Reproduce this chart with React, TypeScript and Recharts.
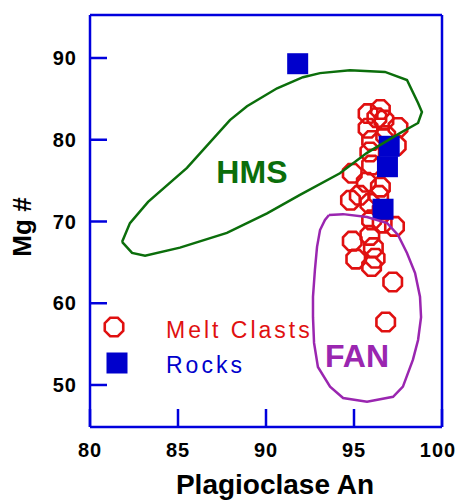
import { ScatterChart, Scatter, XAxis, YAxis, ReferenceDot, Legend, Label } from 'recharts';

const FONT = '"Liberation Sans", Arial, Helvetica, sans-serif';
const BLUE_AXIS = '#0000dd';
const RED = '#e01010';
const BLUE = '#0000cc';
const GREEN = '#0b6e0b';
const PURPLE = '#9a26b0';

// Plagioclase An (x) vs Mg # (y)
const meltClasts = [
  { an: 96.5, mg: 83.7 }, { an: 95.8, mg: 83.2 }, { an: 96.7, mg: 82.4 }, { an: 96.3, mg: 82.7 },
  { an: 97.5, mg: 81.5 }, { an: 95.8, mg: 81.4 }, { an: 96.8, mg: 80.5 }, { an: 96.0, mg: 79.9 },
  { an: 97.4, mg: 79.3 }, { an: 95.9, mg: 78.5 }, { an: 96.0, mg: 76.9 }, { an: 94.9, mg: 75.9 },
  { an: 95.7, mg: 74.8 }, { an: 96.5, mg: 74.2 }, { an: 95.3, mg: 73.2 }, { an: 96.4, mg: 73.2 },
  { an: 94.8, mg: 72.6 }, { an: 95.9, mg: 72.2 }, { an: 96.6, mg: 71.4 }, { an: 96.0, mg: 70.2 },
  { an: 96.6, mg: 69.8 }, { an: 97.3, mg: 69.4 }, { an: 95.9, mg: 68.3 }, { an: 94.9, mg: 67.6 },
  { an: 96.1, mg: 66.8 }, { an: 95.1, mg: 65.4 }, { an: 96.2, mg: 65.5 }, { an: 96.0, mg: 64.5 },
  { an: 97.2, mg: 62.6 }, { an: 96.8, mg: 57.7 },
];

const rocks = [
  { an: 91.8, mg: 89.3 },
  { an: 97.0, mg: 79.2 },
  { an: 96.9, mg: 76.7 },
  { an: 96.65, mg: 71.5 },
];

const hmsOutline = [
  { an: 81.82, mg: 67.5 }, { an: 82.27, mg: 69.8 }, { an: 83.3, mg: 72.4 }, { an: 85.51, mg: 76.55 },
  { an: 87.95, mg: 82.4 }, { an: 88.92, mg: 84.1 }, { an: 90.63, mg: 86.3 }, { an: 92.1, mg: 87.65 },
  { an: 93.07, mg: 88.15 }, { an: 94.77, mg: 88.5 }, { an: 96.76, mg: 88.3 }, { an: 98.01, mg: 87.3 },
  { an: 98.64, mg: 84.5 }, { an: 98.86, mg: 83.4 }, { an: 98.64, mg: 82.05 }, { an: 97.61, mg: 80.8 },
  { an: 95.74, mg: 78.4 }, { an: 94.2, mg: 75.9 }, { an: 91.93, mg: 73.25 }, { an: 90.06, mg: 71.0 },
  { an: 87.78, mg: 68.6 }, { an: 85.11, mg: 66.8 }, { an: 83.13, mg: 65.8 }, { an: 82.39, mg: 66.15 },
  { an: 81.82, mg: 67.5 },
];

const fanOutline = [
  { an: 93.58, mg: 70.8 }, { an: 94.38, mg: 70.9 }, { an: 95.74, mg: 70.55 }, { an: 96.88, mg: 69.8 },
  { an: 97.5, mg: 68.35 }, { an: 98.01, mg: 66.15 }, { an: 98.47, mg: 63.7 }, { an: 98.75, mg: 60.8 },
  { an: 98.81, mg: 58.3 }, { an: 98.64, mg: 55.5 }, { an: 98.35, mg: 53.1 }, { an: 97.78, mg: 49.8 },
  { an: 97.22, mg: 48.55 }, { an: 95.74, mg: 47.95 }, { an: 94.38, mg: 48.4 }, { an: 93.64, mg: 49.8 },
  { an: 92.95, mg: 52.2 }, { an: 92.73, mg: 55.15 }, { an: 92.67, mg: 58.3 }, { an: 92.67, mg: 60.8 },
  { an: 92.78, mg: 64.1 }, { an: 92.9, mg: 66.9 }, { an: 93.07, mg: 68.95 }, { an: 93.35, mg: 70.2 },
  { an: 93.58, mg: 70.8 },
];

const xTicks = [80, 85, 90, 95, 100];
const yTicks = [50, 60, 70, 80, 90];
const hmsLabel = { an: 89.2, mg: 76.1, text: 'HMS' };
const fanLabel = { an: 95.17, mg: 53.6, text: 'FAN' };

const octagonPoints = (cx: number, cy: number, r: number) => {
  const pts = [];
  for (let i = 0; i < 8; i++) {
    const a = Math.PI / 8 + (i * Math.PI) / 4;
    pts.push(`${cx + r * Math.cos(a)},${cy + r * Math.sin(a)}`);
  }
  return pts.join(' ');
};

const Octagon = (props: any) => (
  <polygon points={octagonPoints(props.cx, props.cy, 10)} fill="none" stroke={RED} strokeWidth={2.6} />
);

const Square = (props: any) => (
  <rect x={props.cx - 10.5} y={props.cy - 10.5} width={21} height={21} fill={BLUE} />
);

const NoMark = () => <g />;

const renderLegend = () => (
  <svg width={240} height={72} style={{ display: 'block' }}>
    <polygon points={octagonPoints(19, 17, 10)} fill="none" stroke={RED} strokeWidth={2.6} />
    <text x={71} y={28} fill={RED} fontSize={23} fontFamily={FONT} letterSpacing={3}>
      Melt Clasts
    </text>
    <rect x={11.5} y={42.5} width={21} height={21} fill={BLUE} />
    <text x={71} y={63} fill={BLUE} fontSize={23} fontFamily={FONT} letterSpacing={3}>
      Rocks
    </text>
  </svg>
);

const tickStyle = { fill: '#000', fontSize: 20, fontWeight: 700, fontFamily: FONT, letterSpacing: 1 };
const axisLine = { stroke: BLUE_AXIS, strokeWidth: 2.5 };

// the last label sits against the page edge in the original
const XTick = (props: any) => {
  const v = props.payload.value;
  return (
    <text
      x={props.x + (v === 100 ? -4 : 0)}
      y={props.y}
      dy="0.71em"
      textAnchor="middle"
      fill="#000"
      fontSize={20}
      fontWeight={700}
      fontFamily={FONT}
      letterSpacing={1}
    >
      {v}
    </text>
  );
};

export default function App() {
  return (
    <div style={{ position: 'absolute', left: 0, top: 0, background: '#fff' }}>
      <ScatterChart width={458} height={500} margin={{ top: 14, right: 15, bottom: 0, left: 0 }}>
        <XAxis
          xAxisId="bottom"
          type="number"
          dataKey="an"
          domain={[80, 100]}
          ticks={xTicks}
          height={73}
          tickSize={-18}
          tickMargin={34}
          axisLine={axisLine}
          tickLine={axisLine}
          tick={<XTick />}
        >
          <Label
            content={() => (
              <text x={275} y={494} textAnchor="middle" fontSize={28} fontWeight={700} fontFamily={FONT} fill="#000">
                Plagioclase An
              </text>
            )}
          />
        </XAxis>
        <XAxis
          xAxisId="top"
          orientation="top"
          type="number"
          domain={[80, 100]}
          ticks={xTicks}
          height={1}
          tickSize={-14}
          axisLine={axisLine}
          tickLine={axisLine}
          tick={false}
        />
        <YAxis
          yAxisId="left"
          type="number"
          dataKey="mg"
          domain={[44.86, 95.26]}
          ticks={yTicks}
          width={90}
          tickSize={-17}
          tickMargin={30}
          axisLine={axisLine}
          tickLine={axisLine}
          tick={tickStyle}
        >
          <Label
            content={() => (
              <text
                x={31}
                y={227}
                textAnchor="middle"
                transform="rotate(-90, 31, 227)"
                fontSize={26}
                fontWeight={700}
                fontFamily={FONT}
                fill="#000"
              >
                Mg #
              </text>
            )}
          />
        </YAxis>
        <YAxis
          yAxisId="right"
          orientation="right"
          type="number"
          domain={[44.86, 95.26]}
          ticks={yTicks}
          width={1}
          tickSize={-18}
          axisLine={axisLine}
          tickLine={axisLine}
          tick={false}
        />
        <Legend
          content={renderLegend}
          layout="vertical"
          align="center"
          verticalAlign="middle"
          wrapperStyle={{ left: 95, top: 310, width: 240 }}
        />
        <Scatter name="Melt Clasts" data={meltClasts} xAxisId="bottom" yAxisId="left" shape={Octagon} isAnimationActive={false} />
        <Scatter name="Rocks" data={rocks} xAxisId="bottom" yAxisId="left" shape={Square} isAnimationActive={false} />
        <Scatter
          name="HMS"
          data={hmsOutline}
          xAxisId="bottom"
          yAxisId="left"
          shape={NoMark}
          line={{ stroke: GREEN, strokeWidth: 2.5 }}
          lineType="joint"
          isAnimationActive={false}
        />
        <Scatter
          name="FAN"
          data={fanOutline}
          xAxisId="bottom"
          yAxisId="left"
          shape={NoMark}
          line={{ stroke: PURPLE, strokeWidth: 2.5 }}
          lineType="joint"
          isAnimationActive={false}
        />
        <ReferenceDot
          x={hmsLabel.an}
          y={hmsLabel.mg}
          xAxisId="bottom"
          yAxisId="left"
          r={0}
          stroke="none"
          label={{ value: hmsLabel.text, position: 'center', fill: GREEN, fontSize: 32, fontWeight: 700, fontFamily: FONT }}
        />
        <ReferenceDot
          x={fanLabel.an}
          y={fanLabel.mg}
          xAxisId="bottom"
          yAxisId="left"
          r={0}
          stroke="none"
          label={{ value: fanLabel.text, position: 'center', fill: PURPLE, fontSize: 32, fontWeight: 700, fontFamily: FONT }}
        />
      </ScatterChart>
    </div>
  );
}
